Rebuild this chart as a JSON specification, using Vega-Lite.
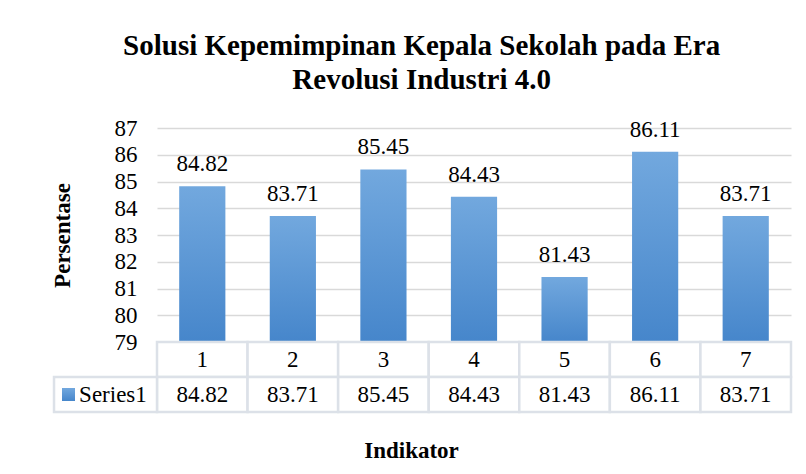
{
  "$schema": "https://vega.github.io/schema/vega-lite/v6.json",
  "background": "white",
  "padding": {"left": 51, "top": 32, "right": 10, "bottom": 10},
  "bounds": "flush",
  "title": {
    "text": ["Solusi Kepemimpinan Kepala Sekolah pada Era", "Revolusi Industri 4.0"],
    "font": "Liberation Serif",
    "fontSize": 29,
    "fontWeight": "bold",
    "color": "black",
    "lineHeight": 34,
    "anchor": "middle",
    "offset": 22
  },
  "datasets": {
    "d": [
      {"ind": 1, "value": 84.82},
      {"ind": 2, "value": 83.71},
      {"ind": 3, "value": 85.45},
      {"ind": 4, "value": 84.43},
      {"ind": 5, "value": 81.43},
      {"ind": 6, "value": 86.11},
      {"ind": 7, "value": 83.71}
    ]
  },
  "spacing": 0,
  "vconcat": [
    {
      "width": 634,
      "height": 214,
      "data": {"name": "d"},
      "encoding": {
        "x": {"field": "ind", "type": "ordinal", "axis": null, "scale": {"paddingInner": 0.49, "paddingOuter": 0.245}},
        "y": {
          "field": "value", "type": "quantitative",
          "scale": {"domain": [79, 87], "nice": false, "zero": false},
          "axis": {
            "title": "Persentase",
            "titleFont": "Liberation Serif", "titleFontSize": 23, "titleFontWeight": "bold", "titleColor": "black",
            "titlePadding": 40,
            "labelFont": "Liberation Serif", "labelFontSize": 23, "labelColor": "black", "labelPadding": 20,
            "labelOverlap": false, "labelBound": false, "labelFlush": false,
            "values": [79, 80, 81, 82, 83, 84, 85, 86, 87],
            "domain": false, "ticks": false,
            "grid": true, "gridColor": "#d9d9d9", "gridWidth": 1.5
          }
        }
      },
      "layer": [
        {
          "mark": {
            "type": "bar",
            "color": {
              "gradient": "linear", "x1": 0, "y1": 0, "x2": 0, "y2": 1,
              "stops": [{"offset": 0, "color": "#72a8de"}, {"offset": 1, "color": "#4686cb"}]
            }
          },
          "encoding": {
            "y2": {"datum": 79}
          }
        },
        {
          "mark": {"type": "text", "font": "Liberation Serif", "fontSize": 23, "color": "black", "baseline": "bottom", "dy": -10},
          "encoding": {
            "text": {"field": "value", "type": "quantitative", "format": ".2f"}
          }
        }
      ]
    },
    {
      "width": 634,
      "height": 70,
      "layer": [
        {
          "data": {"name": "d"},
          "mark": {"type": "rect", "fill": "white", "stroke": "#dce1e8", "strokeWidth": 2.5, "width": 90.57},
          "encoding": {
            "x": {"field": "ind", "type": "quantitative", "scale": {"domain": [0.5, 7.5], "nice": false, "zero": false},
              "axis": {"title": "Indikator", "labels": false, "ticks": false, "domain": false, "grid": false,
                "titleFont": "Liberation Serif", "titleFontSize": 23, "titleFontWeight": "bold", "titleColor": "black",
                "titlePadding": 27, "titleX": 254}},
            "y": {"datum": "cat", "type": "nominal", "scale": {"domain": ["cat", "val"], "paddingInner": 0, "paddingOuter": 0}, "axis": null}
          }
        },
        {
          "data": {"name": "d"},
          "mark": {"type": "rect", "fill": "white", "stroke": "#dce1e8", "strokeWidth": 2.5, "width": 90.57},
          "encoding": {
            "x": {"field": "ind", "type": "quantitative"},
            "y": {"datum": "val", "type": "nominal"}
          }
        },
        {
          "data": {"values": [{"series": "Series1"}]},
          "mark": {"type": "rect", "fill": "white", "stroke": "#dce1e8", "strokeWidth": 2.5},
          "encoding": {
            "x": {"datum": -0.637, "type": "quantitative"},
            "x2": {"datum": 0.5},
            "y": {"datum": "val", "type": "nominal"}
          }
        },
        {
          "data": {"name": "d"},
          "mark": {"type": "text", "font": "Liberation Serif", "fontSize": 23, "color": "black"},
          "encoding": {
            "x": {"field": "ind", "type": "quantitative"},
            "y": {"datum": "cat", "type": "nominal"},
            "text": {"field": "ind", "type": "nominal"}
          }
        },
        {
          "data": {"name": "d"},
          "mark": {"type": "text", "font": "Liberation Serif", "fontSize": 23, "color": "black"},
          "encoding": {
            "x": {"field": "ind", "type": "quantitative"},
            "y": {"datum": "val", "type": "nominal"},
            "text": {"field": "value", "type": "quantitative", "format": ".2f"}
          }
        },
        {
          "data": {"values": [{"series": "Series1"}]},
          "mark": {
            "type": "square", "size": 170, "opacity": 1, "filled": true,
            "color": {
              "gradient": "linear", "x1": 0, "y1": 0, "x2": 0, "y2": 1,
              "stops": [{"offset": 0, "color": "#72a8de"}, {"offset": 1, "color": "#4686cb"}]
            }
          },
          "encoding": {
            "x": {"datum": -0.477, "type": "quantitative"},
            "y": {"datum": "val", "type": "nominal"}
          }
        },
        {
          "data": {"values": [{"series": "Series1"}]},
          "mark": {"type": "text", "font": "Liberation Serif", "fontSize": 23, "color": "black", "align": "left"},
          "encoding": {
            "x": {"datum": -0.36, "type": "quantitative"},
            "y": {"datum": "val", "type": "nominal"},
            "text": {"field": "series", "type": "nominal"}
          }
        }
      ]
    }
  ],
  "config": {"view": {"stroke": null}, "font": "Liberation Serif"}
}
